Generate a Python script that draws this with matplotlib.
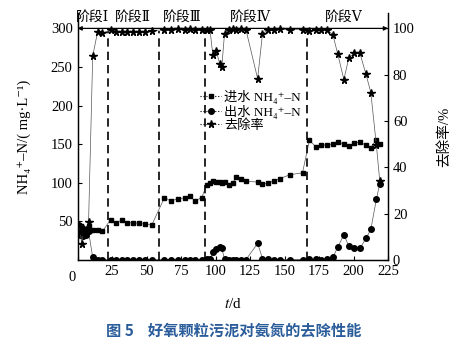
"""
Ammonia nitrogen removal by aerobic granular sludge over five operating stages
"""

import matplotlib.pyplot as plt
from matplotlib.lines import Line2D
import numpy as np

plt.rcParams['font.family'] = ['Liberation Serif', 'DejaVu Serif', 'Noto Sans CJK SC']
plt.rcParams['mathtext.fontset'] = 'stix'
plt.rcParams['axes.unicode_minus'] = False

# ----- Data -----
days = [1, 2, 3, 4, 5, 6, 8, 11, 14.5, 18,
        24, 28, 32, 36, 40, 44.5, 49, 54,
        63, 67.5, 73, 78, 81.5, 85, 90,
        93.5, 96, 98, 100.5, 103, 104.5, 106.5, 110, 112.5, 115, 118.5, 122,
        130.5, 134, 138, 142, 146.5, 154, 163,
        168, 172.5, 176.5, 181, 185, 188.5, 193, 196.5, 200.5, 204.5, 209,
        212.5, 216.5, 219]

influent = [46, 38, 42, 36, 40, 37, 44, 39, 39, 37,
            52.5, 48.5, 51.5, 48, 48.5, 47.5, 46.5, 46,
            81, 76.5, 79.5, 80.5, 82.5, 76.5, 81,
            97, 100, 103, 100.5, 101, 100, 101, 97, 100, 107, 105.5, 102,
            101, 98, 100, 102, 105.5, 110.5, 113,
            155, 147, 149, 149, 150.5, 152.5, 150.5, 147.5, 151, 153, 148.5,
            145.5, 156, 150]

effluent = [39, 33, 39, 31, 35, 32, 37, 3.5, 0.6, 0.4,
            0.4, 0.3, 0.5, 0.3, 0.4, 0.3, 0.5, 0.4,
            0.4, 0.3, 0.5, 0.4, 0.3, 0.5, 0.4,
            0.8, 1.0, 10.7, 13.8, 16.4, 15, 1.5, 0.5, 0.4, 0.5, 0.4, 0.5,
            21.5, 2, 0.8, 0.5, 0.4, 0.5, 0.6,
            1.5, 0.8, 0.6, 0.8, 3.5, 16.4, 33, 18, 15, 15, 28,
            39.7, 78.5, 99]

removal = [15, 12, 7, 14, 12, 13, 16.5, 88, 98.4, 98,
           99.2, 98.5, 98.3, 98.5, 98.4, 98.6, 98.4, 99,
           99.5, 99.4, 99.6, 99.5, 99.6, 99.4, 99.5,
           99.4, 99.2, 88.7, 90.2, 84.8, 83.3, 97.7, 99.5, 99.6, 99.5, 99.6, 99.5,
           78.3, 97.7, 99.3, 99.5, 99.6, 99.5, 99.5,
           98.7, 99.3, 99.5, 99.4, 97.3, 89, 77.9, 87.2, 89.4, 89.5, 80.2,
           72.3, 49.7, 34]

stage_bounds = [22, 59, 92, 166]
stage_names = ['阶段Ⅰ', '阶段Ⅱ', '阶段Ⅲ', '阶段Ⅳ', '阶段Ⅴ']
stage_label_x = [10.5, 40, 76, 125, 193]

# ----- Plot -----
fig = plt.figure(figsize=(4.67, 3.5), dpi=100)
ax = fig.add_axes([0.166, 0.257, 0.665, 0.706])
ax2 = ax.twinx()

line_kw = dict(color='#555555', lw=0.5, mec='black', mfc='black')
ax.plot(days, influent, marker='s', ms=3.5, **line_kw)
ax.plot(days, effluent, marker='o', ms=4, **line_kw)
ax2.plot(days, removal, marker='*', ms=5.5, **line_kw)

# stage boundaries
ax.vlines(stage_bounds, 0, 296, colors='black', linestyles=(0, (5, 3)), lw=1.2)

# stage span arrow along the top
ax.annotate('', xy=(0, 300), xytext=(225, 300),
            arrowprops=dict(arrowstyle='<|-|>', lw=0.9, color='black',
                            mutation_scale=6, shrinkA=0, shrinkB=0))
for name, sx in zip(stage_names, stage_label_x):
    ax.text(sx, 314, name, ha='center', va='center', fontsize=10)

ax.set_xlim(0, 225)
ax.set_ylim(0, 320)
ax2.set_ylim(0, 320 / 3)

ax.set_xticks(np.arange(0, 226, 25))
ax.set_xticklabels([''] + [str(v) for v in range(25, 226, 25)])
ax.text(-4, -14, '0', ha='center', va='top', fontsize=10.5)
ax.set_yticks(np.arange(50, 301, 50))
ax2.set_yticks(np.arange(0, 101, 20))

for a in (ax, ax2):
    a.tick_params(direction='in', labelsize=10.5, length=3, width=0.8)
    a.spines['top'].set_visible(False)
    for s in a.spines.values():
        s.set_linewidth(0.9)

ax.set_xlabel('$t$/d', fontsize=11, labelpad=14)
ax.set_ylabel('NH₄⁺–N/( mg·L⁻¹)', fontsize=10.5, labelpad=14)
ax2.set_ylabel('去除率/%', fontsize=10.5, labelpad=16)

# legend keys drawn with dotted connectors
leg_kw = dict(color='black', lw=0.8, ls=':', mec='black', mfc='black')
handles = [Line2D([], [], marker='s', ms=3.5, **leg_kw),
           Line2D([], [], marker='o', ms=4, **leg_kw),
           Line2D([], [], marker='*', ms=5.5, **leg_kw)]
labels = ['进水 NH₄⁺–N', '出水 NH₄⁺–N', '去除率']
ax.legend(handles, labels, loc='upper left', bbox_to_anchor=(0.37, 0.72),
          frameon=False, fontsize=9.5, handlelength=1.6, handletextpad=0.2,
          labelspacing=0.05, borderpad=0.1)

fig.text(0.5, 0.055, '图 5    好氧颗粒污泥对氨氮的去除性能', ha='center', va='center',
         fontsize=11, fontweight='bold', color='#2b5d9b', family='Noto Sans CJK SC')

plt.savefig('out.png', dpi=100)
